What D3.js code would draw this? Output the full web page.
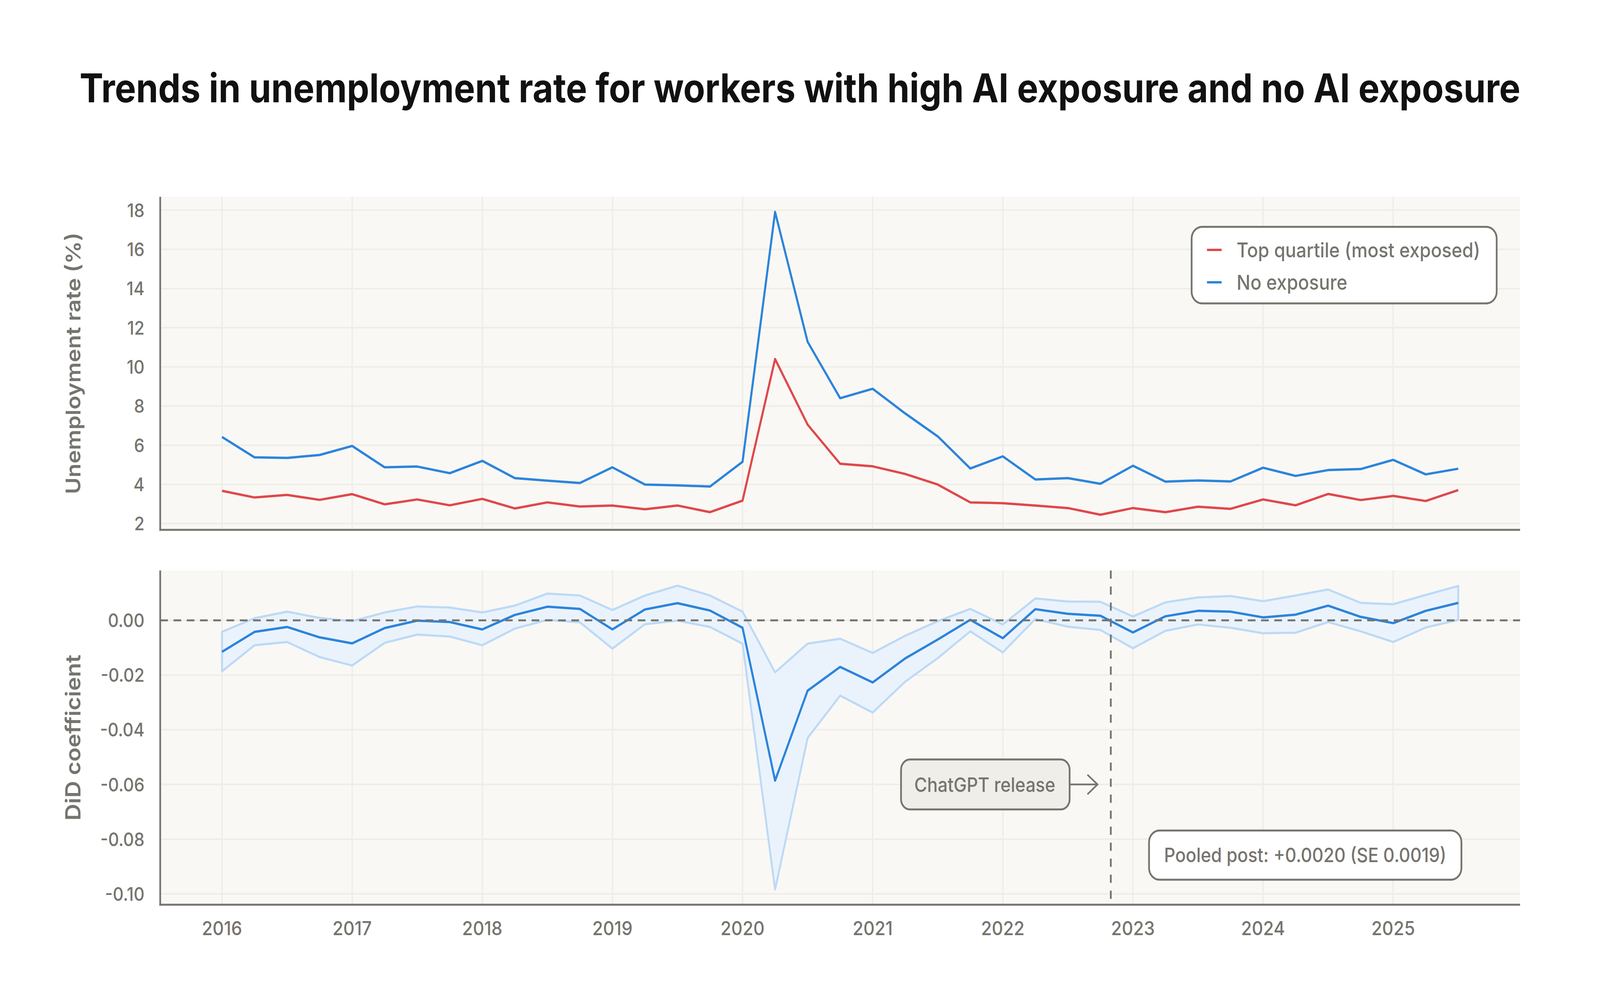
<!DOCTYPE html>
<html>
<head>
<meta charset="utf-8">
<script src="https://cdn.jsdelivr.net/npm/d3@7"></script>
<style>
  html, body { margin: 0; padding: 0; width: 100%; height: 100%; overflow: hidden; background: #ffffff; }
  svg { display: block; width: 100vw; height: 100vh; }
</style>
</head>
<body>
<svg id="chart"></svg>
<script>
// Quarterly observations, 2016 Q1 .. 2025 Q3
const quarters = [
    '2016 Q1', '2016 Q2', '2016 Q3', '2016 Q4',
    '2017 Q1', '2017 Q2', '2017 Q3', '2017 Q4',
    '2018 Q1', '2018 Q2', '2018 Q3', '2018 Q4',
    '2019 Q1', '2019 Q2', '2019 Q3', '2019 Q4',
    '2020 Q1', '2020 Q2', '2020 Q3', '2020 Q4',
    '2021 Q1', '2021 Q2', '2021 Q3', '2021 Q4',
    '2022 Q1', '2022 Q2', '2022 Q3', '2022 Q4',
    '2023 Q1', '2023 Q2', '2023 Q3', '2023 Q4',
    '2024 Q1', '2024 Q2', '2024 Q3', '2024 Q4',
    '2025 Q1', '2025 Q2', '2025 Q3'
];

// Unemployment rate (%), top quartile of AI exposure
const topQuartile = [
    3.67, 3.33, 3.46, 3.21,
    3.50, 2.98, 3.23, 2.93,
    3.26, 2.77, 3.08, 2.87,
    2.92, 2.73, 2.92, 2.58,
    3.17, 10.40, 7.05, 5.05,
    4.92, 4.53, 3.99, 3.08,
    3.04, 2.92, 2.79, 2.45,
    2.79, 2.58, 2.86, 2.75,
    3.23, 2.93, 3.51, 3.20,
    3.41, 3.15, 3.71
];

// Unemployment rate (%), no AI exposure
const noExposure = [
    6.42, 5.38, 5.35, 5.50,
    5.96, 4.87, 4.91, 4.57,
    5.20, 4.32, 4.19, 4.07,
    4.87, 3.99, 3.95, 3.89,
    5.15, 17.91, 11.28, 8.40,
    8.88, 7.62, 6.45, 4.81,
    5.43, 4.25, 4.32, 4.03,
    4.95, 4.14, 4.20, 4.15,
    4.85, 4.43, 4.73, 4.78,
    5.25, 4.51, 4.80
];

// DiD coefficient and its confidence band
const didCoef = [
    -0.0115, -0.0042, -0.0024, -0.0062,
    -0.0084, -0.0028, -0.0001, -0.0006,
    -0.0033, 0.0020, 0.0050, 0.0042,
    -0.0033, 0.0040, 0.0063, 0.0036,
    -0.0027, -0.0586, -0.0257, -0.0170,
    -0.0227, -0.0139, -0.0070, 0.0002,
    -0.0065, 0.0041, 0.0024, 0.0017,
    -0.0044, 0.0015, 0.0035, 0.0032,
    0.0011, 0.0021, 0.0054, 0.0013,
    -0.0010, 0.0035, 0.0064
];
const ciUpper = [
    -0.0042, 0.0008, 0.0032, 0.0009,
    -0.0003, 0.0029, 0.0051, 0.0047,
    0.0029, 0.0054, 0.0098, 0.0091,
    0.0038, 0.0091, 0.0127, 0.0091,
    0.0032, -0.0190, -0.0085, -0.0067,
    -0.0119, -0.0056, -0.0003, 0.0042,
    -0.0015, 0.0080, 0.0069, 0.0068,
    0.0014, 0.0066, 0.0084, 0.0089,
    0.0070, 0.0091, 0.0113, 0.0064,
    0.0059, 0.0093, 0.0126
];
const ciLower = [
    -0.0186, -0.0091, -0.0079, -0.0134,
    -0.0165, -0.0082, -0.0052, -0.0059,
    -0.0091, -0.0030, 0.0002, -0.0007,
    -0.0103, -0.0014, -0.0001, -0.0024,
    -0.0085, -0.0984, -0.0430, -0.0275,
    -0.0337, -0.0224, -0.0138, -0.0040,
    -0.0117, 0.0005, -0.0023, -0.0035,
    -0.0102, -0.0038, -0.0015, -0.0027,
    -0.0047, -0.0045, -0.0006, -0.0040,
    -0.0079, -0.0026, 0.0002
];

const yearTicks = [2016, 2017, 2018, 2019, 2020, 2021, 2022, 2023, 2024, 2025];
const rateTicks = [2, 4, 6, 8, 10, 12, 14, 16, 18];
const didTicks = [0, -0.02, -0.04, -0.06, -0.08, -0.10];
const chatgptRelease = 2022.83;

const titleText = 'Trends in unemployment rate for workers with high AI exposure and no AI exposure';
const legendLabels = ['Top quartile (most exposed)', 'No exposure'];
const pooledText = 'Pooled post: +0.0020 (SE 0.0019)';

// Layout and style
const W = 4584, H = 2579;
const plotLeft = 459, plotRight = 4355;
const upper = { top: 504, bottom: 1357 };
const lower = { top: 1461, bottom: 2317 };
const font = "Inter, 'Noto Sans', 'DejaVu Sans', sans-serif";
const gray = '#76746e';
const gridColor = '#efede7';
const plotBg = '#f9f8f5';
const red = '#e0484a';
const blue = '#2c84db';
const bandFill = '#eaf3fc';
const bandEdge = '#bdd9f6';

// drawing is done in 4584x2579 units and stretched onto the window,
// which can be narrower than asked for
const svg = d3.select('#chart')
    .attr('viewBox', `0 0 ${W} ${H}`)
    .attr('preserveAspectRatio', 'none');

svg.append('rect').attr('width', W).attr('height', H).attr('fill', '#ffffff');

// quarter label -> fractional year
const t = quarters.map(q => {
    const [yr, qq] = q.split(' Q');
    return +yr + (+qq - 1) / 4;
});

// extent with 5% padding, like matplotlib's default margins
function padded(values) {
    const [lo, hi] = d3.extent(values);
    const pad = (hi - lo) * 0.05;
    return [lo - pad, hi + pad];
}

const x = d3.scaleLinear().domain(padded(t)).range([plotLeft, plotRight]);
const yRate = d3.scaleLinear()
    .domain(padded(topQuartile.concat(noExposure)))
    .range([upper.bottom, upper.top]);
const yDid = d3.scaleLinear()
    .domain(padded(ciLower.concat(ciUpper)))
    .range([lower.bottom, lower.top]);

const fmt = d3.formatLocale({ decimal: '.', thousands: ',', grouping: [3], currency: ['$', ''], minus: '-' }).format('.2f');

// shrink or grow a text's font size so it spans the given width
function fitWidth(sel, target) {
    const fs = parseFloat(sel.attr('font-size'));
    const w = sel.node().getComputedTextLength();
    if (w > 0) sel.attr('font-size', fs * target / w);
    return sel;
}

// Title
const title = svg.append('text')
    .attr('x', W / 2)
    .attr('y', 262)
    .attr('text-anchor', 'middle')
    .attr('font-family', font)
    .attr('font-weight', 700)
    .attr('font-size', 124)
    .attr('fill', '#111111')
    .text(titleText);
fitWidth(title, 4128);

function drawPanel(panel, y, ticks, tickFormat, label, labelWidth) {
    const g = svg.append('g');
    g.append('rect')
        .attr('x', plotLeft)
        .attr('y', panel.top)
        .attr('width', plotRight - plotLeft)
        .attr('height', panel.bottom - panel.top)
        .attr('fill', plotBg);

    // grid
    g.selectAll('.hgrid')
        .data(ticks)
        .enter()
        .append('line')
        .attr('x1', plotLeft)
        .attr('x2', plotRight)
        .attr('y1', d => y(d))
        .attr('y2', d => y(d))
        .attr('stroke', gridColor)
        .attr('stroke-width', 4);
    g.selectAll('.vgrid')
        .data(yearTicks)
        .enter()
        .append('line')
        .attr('x1', d => x(d))
        .attr('x2', d => x(d))
        .attr('y1', panel.top)
        .attr('y2', panel.bottom)
        .attr('stroke', gridColor)
        .attr('stroke-width', 4);

    // tick labels
    g.selectAll('.ytick')
        .data(ticks)
        .enter()
        .append('text')
        .attr('x', plotLeft - 45)
        .attr('y', d => y(d))
        .attr('text-anchor', 'end')
        .attr('dominant-baseline', 'central')
        .attr('font-family', font)
        .attr('font-weight', 500)
        .attr('font-size', 48)
        .attr('fill', gray)
        .text(tickFormat);

    // axis title
    const cy = (panel.top + panel.bottom) / 2;
    const lab = g.append('text')
        .attr('transform', `translate(209,${cy}) rotate(-90)`)
        .attr('text-anchor', 'middle')
        .attr('dominant-baseline', 'central')
        .attr('font-family', font)
        .attr('font-weight', 600)
        .attr('font-size', 58)
        .attr('fill', gray)
        .text(label);
    fitWidth(lab, labelWidth);
    return g;
}

function drawSpines(panel) {
    svg.append('line')
        .attr('x1', plotLeft).attr('x2', plotLeft)
        .attr('y1', panel.top).attr('y2', panel.bottom + 2.5)
        .attr('stroke', gray).attr('stroke-width', 5);
    svg.append('line')
        .attr('x1', plotLeft - 2.5).attr('x2', plotRight)
        .attr('y1', panel.bottom).attr('y2', panel.bottom)
        .attr('stroke', gray).attr('stroke-width', 5);
}

// ---------- upper panel: unemployment rates ----------
drawPanel(upper, yRate, rateTicks, d => d, 'Unemployment rate (%)', 670);

const rateLine = d3.line()
    .x((d, i) => x(t[i]))
    .y(d => yRate(d));

svg.append('path')
    .datum(topQuartile)
    .attr('d', rateLine)
    .attr('fill', 'none')
    .attr('stroke', red)
    .attr('stroke-width', 6)
    .attr('stroke-linejoin', 'round');

svg.append('path')
    .datum(noExposure)
    .attr('d', rateLine)
    .attr('fill', 'none')
    .attr('stroke', blue)
    .attr('stroke-width', 6)
    .attr('stroke-linejoin', 'round');

drawSpines(upper);

// legend
const legendW = 874, legendH = 196;
const legendX = plotRight - 67 - legendW;
const legendY = upper.top + 77;
const legend = svg.append('g');
legend.append('rect')
    .attr('x', legendX)
    .attr('y', legendY)
    .attr('width', legendW)
    .attr('height', legendH)
    .attr('rx', 30)
    .attr('fill', '#ffffff')
    .attr('stroke', gray)
    .attr('stroke-width', 5);

const legendTargets = [698, 317];
legendLabels.forEach((name, i) => {
    const ly = legendY + 59 + i * 83;
    legend.append('line')
        .attr('x1', legendX + 44)
        .attr('x2', legendX + 86)
        .attr('y1', ly)
        .attr('y2', ly)
        .attr('stroke', i === 0 ? red : blue)
        .attr('stroke-width', 6);
    const lt = legend.append('text')
        .attr('x', legendX + 129)
        .attr('y', ly)
        .attr('dominant-baseline', 'central')
        .attr('font-family', font)
        .attr('font-weight', 500)
        .attr('font-size', 52)
        .attr('fill', gray)
        .text(name);
    fitWidth(lt, legendTargets[i]);
});

// ---------- lower panel: DiD coefficient ----------
drawPanel(lower, yDid, didTicks, fmt, 'DiD coefficient', 425);

const band = d3.area()
    .x((d, i) => x(t[i]))
    .y0((d, i) => yDid(ciLower[i]))
    .y1(d => yDid(d));

svg.append('path')
    .datum(ciUpper)
    .attr('d', band)
    .attr('fill', bandFill)
    .attr('stroke', bandEdge)
    .attr('stroke-width', 5.5)
    .attr('stroke-linejoin', 'round');

svg.append('path')
    .datum(didCoef)
    .attr('d', d3.line().x((d, i) => x(t[i])).y(d => yDid(d)))
    .attr('fill', 'none')
    .attr('stroke', blue)
    .attr('stroke-width', 6)
    .attr('stroke-linejoin', 'round');

// zero reference line
svg.append('line')
    .attr('x1', plotLeft)
    .attr('x2', plotRight)
    .attr('y1', yDid(0))
    .attr('y2', yDid(0))
    .attr('stroke', gray)
    .attr('stroke-width', 5)
    .attr('stroke-dasharray', '22,16');

// ChatGPT release marker
svg.append('line')
    .attr('x1', x(chatgptRelease))
    .attr('x2', x(chatgptRelease))
    .attr('y1', lower.top)
    .attr('y2', lower.bottom)
    .attr('stroke', gray)
    .attr('stroke-width', 5)
    .attr('stroke-dasharray', '21,20');

drawSpines(lower);

// x tick labels
svg.selectAll('.xtick')
    .data(yearTicks)
    .enter()
    .append('text')
    .attr('x', d => x(d))
    .attr('y', lower.bottom + 60)
    .attr('text-anchor', 'middle')
    .attr('dominant-baseline', 'central')
    .attr('font-family', font)
    .attr('font-weight', 500)
    .attr('font-size', 50)
    .attr('fill', gray)
    .text(d => d);

// ChatGPT annotation, pointing at the release line
const tipX = x(chatgptRelease) - 38;
const tipY = yDid(-0.06);
const boxRight = tipX - 80;
const boxW = 483, boxH = 128;
const ann = svg.append('g');
ann.append('rect')
    .attr('x', boxRight - boxW)
    .attr('y', tipY - boxH / 2)
    .attr('width', boxW)
    .attr('height', boxH)
    .attr('rx', 26)
    .attr('fill', '#f0eee8')
    .attr('stroke', gray)
    .attr('stroke-width', 5);
const annText = ann.append('text')
    .attr('x', boxRight - boxW + 38)
    .attr('y', tipY)
    .attr('dominant-baseline', 'central')
    .attr('font-family', font)
    .attr('font-weight', 500)
    .attr('font-size', 52)
    .attr('fill', gray)
    .text('ChatGPT release');
fitWidth(annText, 404);
ann.append('line')
    .attr('x1', boxRight)
    .attr('x2', tipX)
    .attr('y1', tipY)
    .attr('y2', tipY)
    .attr('stroke', gray)
    .attr('stroke-width', 4.5);
ann.append('path')
    .attr('d', `M${tipX - 29},${tipY - 25} L${tipX},${tipY} L${tipX - 29},${tipY + 25}`)
    .attr('fill', 'none')
    .attr('stroke', gray)
    .attr('stroke-width', 4.5);

// pooled estimate box
const pooledW = 895, pooledH = 126;
const pooledX = plotRight - 168 - pooledW;
const pooledY = lower.bottom - 64 - pooledH;
svg.append('rect')
    .attr('x', pooledX)
    .attr('y', pooledY)
    .attr('width', pooledW)
    .attr('height', pooledH)
    .attr('rx', 30)
    .attr('fill', '#ffffff')
    .attr('stroke', gray)
    .attr('stroke-width', 5);
const pooled = svg.append('text')
    .attr('x', pooledX + 43)
    .attr('y', pooledY + pooledH / 2)
    .attr('dominant-baseline', 'central')
    .attr('font-family', font)
    .attr('font-weight', 500)
    .attr('font-size', 52)
    .attr('fill', gray)
    .text(pooledText);
fitWidth(pooled, 809);
</script>
</body>
</html>
